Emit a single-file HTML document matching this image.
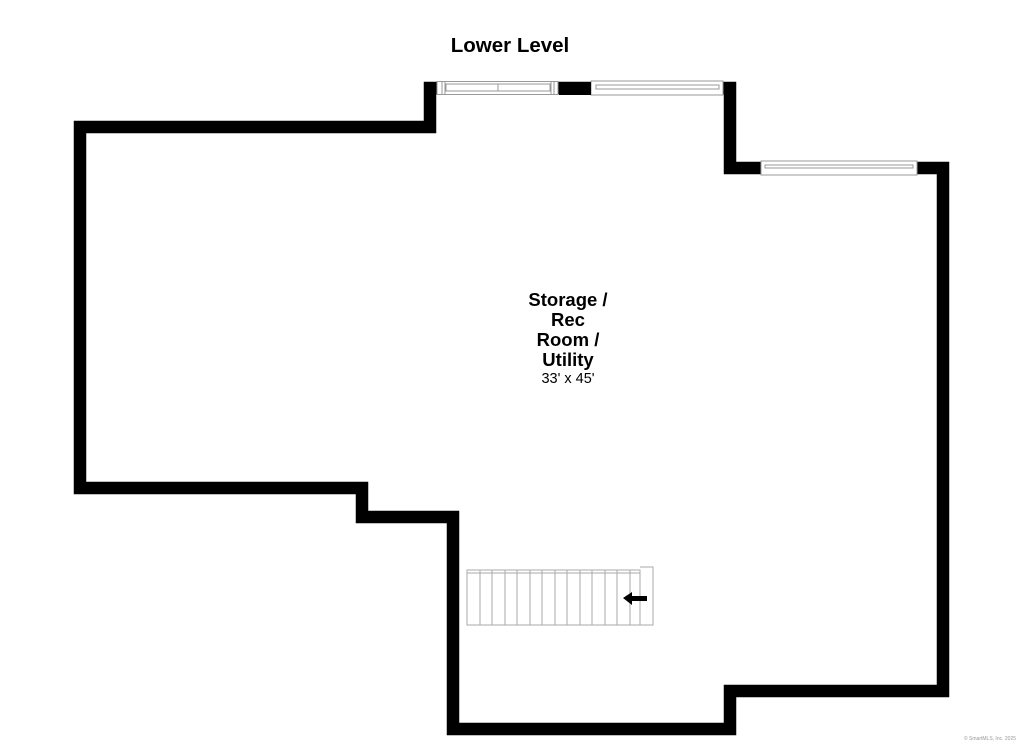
<!DOCTYPE html>
<html><head><meta charset="utf-8"><style>
html,body{margin:0;padding:0;background:#fff;width:1024px;height:745px;overflow:hidden}
svg{display:block}
</style></head><body>
<svg width="1024" height="745" viewBox="0 0 1024 745" xmlns="http://www.w3.org/2000/svg">
<rect width="1024" height="745" fill="#fff"/>
<text x="510" y="52" text-anchor="middle" font-family="Liberation Sans, sans-serif" font-weight="bold" font-size="20.5" fill="#000">Lower Level</text>
<path d="M80,127 L430,127 L430,88 L730,88 L730,168 L943,168 L943,691 L730,691 L730,729 L453,729 L453,517 L362,517 L362,488 L80,488 Z" fill="none" stroke="#000" stroke-width="12.5" stroke-linejoin="miter"/>
<g fill="#fff" stroke="#999" stroke-width="1">
<rect x="437" y="81.5" width="121" height="13"/>
<line x1="442" y1="82" x2="442" y2="94"/>
<line x1="445" y1="82" x2="445" y2="94"/>
<rect x="446" y="84" width="52" height="7" fill="none"/>
<rect x="498" y="84" width="52" height="7" fill="none"/>
<line x1="551" y1="82" x2="551" y2="94"/>
<line x1="554" y1="82" x2="554" y2="94"/>
<rect x="591" y="81" width="132" height="14"/>
<rect x="596" y="85" width="123" height="4" fill="none"/>
<rect x="761" y="161" width="156" height="14"/>
<rect x="765" y="165" width="148" height="3" fill="none"/>
</g>
<rect x="559" y="82" width="32" height="13" fill="#000"/>
<g fill="none" stroke="#aaa" stroke-width="1">
<rect x="467" y="570" width="173" height="55"/>
<path d="M640,567 L653,567 L653,625 L640,625"/>
<path d="M467,570 L640,570 L640,573 L467,573"/>
<line x1="480" y1="570" x2="480" y2="625"/>
<line x1="492" y1="570" x2="492" y2="625"/>
<line x1="505" y1="570" x2="505" y2="625"/>
<line x1="517" y1="570" x2="517" y2="625"/>
<line x1="530" y1="570" x2="530" y2="625"/>
<line x1="542" y1="570" x2="542" y2="625"/>
<line x1="555" y1="570" x2="555" y2="625"/>
<line x1="567" y1="570" x2="567" y2="625"/>
<line x1="580" y1="570" x2="580" y2="625"/>
<line x1="592" y1="570" x2="592" y2="625"/>
<line x1="605" y1="570" x2="605" y2="625"/>
<line x1="617" y1="570" x2="617" y2="625"/>
<line x1="630" y1="570" x2="630" y2="625"/>
</g>
<path d="M623,598 L632,592 L632,596 L647,596 L647,601 L632,601 L632,605 Z" fill="#000"/>
<g font-family="Liberation Sans, sans-serif" text-anchor="middle" fill="#000">
<text x="568" y="306" font-weight="bold" font-size="18.5">Storage /</text>
<text x="568" y="326" font-weight="bold" font-size="18.5">Rec</text>
<text x="568" y="346" font-weight="bold" font-size="18.5">Room /</text>
<text x="568" y="366" font-weight="bold" font-size="18.5">Utility</text>
<text x="568" y="383" font-size="14.5">33' x 45'</text>
<text x="990" y="740" font-size="5" fill="#999">© SmartMLS, Inc. 2025</text>
</g>
</svg>
</body></html>
